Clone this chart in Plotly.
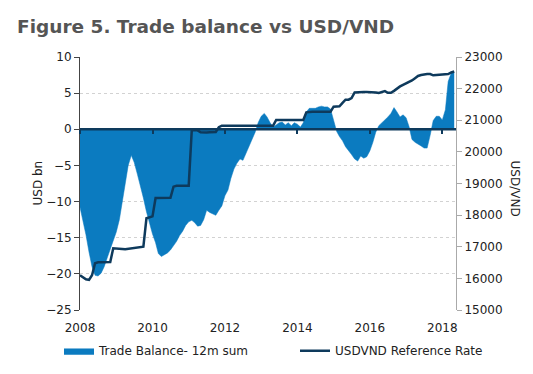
import plotly.graph_objects as go
import pandas as pd

months = pd.date_range("2008-01-01", periods=125, freq="MS")

trade_balance = [
    -10.8, -12.6, -14.6, -17.0, -19.0, -20.2, -20.3, -19.9, -19.0, -17.8, -16.6, -15.3,
    -14.2, -12.5, -10.3, -7.5, -5.0, -3.6, -4.6, -6.2, -7.8, -9.5, -11.4, -13.0,
    -14.5, -15.7, -17.2, -17.6, -17.4, -17.1, -16.7, -16.1, -15.5, -14.7, -14.1, -13.3,
    -12.8, -12.6, -12.9, -13.4, -13.3, -12.5, -11.2, -11.5, -11.7, -11.9, -11.2, -10.6,
    -9.2, -8.4, -6.8, -5.5, -4.7, -4.1, -4.3, -3.3, -2.3, -1.3, -0.4, 0.9,
    1.8, 2.2, 1.7, 0.9, 0.3, 0.6, 0.9, 1.0, 0.6, 0.9, 0.5, 0.9,
    0.7, 0.3, 0.9, 2.4, 2.9, 2.9, 2.9, 3.1, 3.2, 3.1, 3.1, 2.8,
    1.3, -0.3, -1.0, -1.6, -2.4, -2.9, -3.5, -4.1, -4.4, -3.7, -4.0, -3.8,
    -3.0, -1.8, -0.4, 0.5, 0.9, 1.2, 1.7, 2.2, 3.0, 2.4, 1.7, 2.0,
    1.6, 0.3, -1.4, -1.8, -2.0, -2.3, -2.6, -2.6, -0.8, 1.2, 1.8, 1.8,
    1.3, 2.7, 6.6, 7.8, 7.9,
]

usdvnd = [
    16100, 16020, 15970, 15950, 16100, 16480, 16510, 16510, 16510, 16510, 16520, 16950,
    16950, 16940, 16930, 16920, 16930, 16940, 16950, 16960, 16980, 17000, 17900, 17940,
    17960, 18540, 18540, 18540, 18540, 18540, 18550, 18900, 18930, 18930, 18930, 18930,
    18930, 20690, 20690, 20680, 20620, 20610, 20610, 20620, 20620, 20630, 20780, 20830,
    20830, 20830, 20830, 20830, 20830, 20830, 20830, 20830, 20830, 20830, 20830, 20830,
    20830, 20830, 20830, 20830, 20830, 21010, 21010, 21010, 21010, 21010, 21010, 21010,
    21010, 21010, 21010, 21250, 21270, 21270, 21270, 21270, 21270, 21270, 21270, 21270,
    21430, 21440, 21440, 21550, 21650, 21650, 21700, 21880, 21890, 21890, 21890, 21890,
    21890, 21890, 21880, 21860, 21880, 21920, 21870, 21870, 21930, 22010, 22070, 22120,
    22160, 22200, 22260, 22330, 22400, 22430, 22450, 22460, 22460, 22420, 22430, 22440,
    22440, 22450, 22460, 22510, 22540,
]

tick_dates = ["2008-01-01", "2010-01-01", "2012-01-01", "2014-01-01", "2016-01-01", "2018-01-01"]
tick_labels = ["2008", "2010", "2012", "2014", "2016", "2018"]

FILL = "#0B7BC0"
NAVY = "#0E3A5C"
FONT = "DejaVu Sans"
X_RANGE = ["2008-01-01", "2018-05-19"]
Y_RANGE = [-25, 10]

fig = go.Figure()
fig.add_trace(go.Scatter(
    x=months, y=trade_balance, name="Trade Balance- 12m sum",
    mode="lines", fill="tozeroy", fillcolor=FILL,
    line=dict(color=FILL, width=0.5), legend="legend",
))
fig.add_trace(go.Scatter(
    x=months, y=usdvnd, name="USDVND Reference Rate", yaxis="y2",
    mode="lines", line=dict(color=NAVY, width=2.5), legend="legend2",
))
# invisible carrier for the tick marks drawn on the zero line
fig.add_trace(go.Scatter(
    x=months, y=trade_balance, xaxis="x2", mode="none",
    showlegend=False, hoverinfo="skip",
))

zero_frac = (0 - Y_RANGE[0]) / (Y_RANGE[1] - Y_RANGE[0])
legend_font = dict(family=FONT, size=12, color="#222222")

fig.update_layout(
    width=533, height=374,
    margin=dict(l=80, r=77, t=57, b=64, autoexpand=False),
    paper_bgcolor="white", plot_bgcolor="white",
    font=dict(family=FONT, size=12, color="#222222"),
    title=dict(
        text="<b>Figure 5. Trade balance vs USD/VND</b>",
        font=dict(family=FONT, size=18.5, color="#555555"),
        x=17 / 533, xref="container", xanchor="left",
        y=1 - 27 / 374, yref="container", yanchor="middle",
    ),
    xaxis=dict(
        type="date", range=X_RANGE,
        tickvals=tick_dates, ticktext=tick_labels,
        ticks="outside", ticklen=7, tickcolor="rgba(0,0,0,0)",
        showline=False, showgrid=False, zeroline=False,
        tickfont=dict(size=12, color="#222222"),
    ),
    xaxis2=dict(
        type="date", range=X_RANGE, overlaying="x", anchor="free",
        position=zero_frac,
        tickvals=tick_dates, ticks="outside", ticklen=4, tickwidth=1.5,
        tickcolor=NAVY, showticklabels=False,
        showline=False, showgrid=False, zeroline=False,
    ),
    yaxis=dict(
        range=Y_RANGE, dtick=5, tick0=0,
        showgrid=True, gridcolor="#d2d2d2", griddash="dot", gridwidth=1,
        showline=True, linecolor="#444444", linewidth=1,
        ticks="outside", ticklen=5, tickcolor="#444444",
        zeroline=False,
        tickfont=dict(size=12, color="#222222"),
    ),
    yaxis2=dict(
        overlaying="y", side="right", range=[15000, 23000], dtick=1000,
        tickformat="d",
        showgrid=False, showline=True, linecolor="#aaaaaa", linewidth=1,
        ticks="outside", ticklen=5, tickcolor="#aaaaaa",
        zeroline=False,
        tickfont=dict(size=12, color="#222222"),
    ),
    shapes=[dict(
        type="line", xref="paper", x0=0, x1=1, yref="y", y0=0, y1=0,
        line=dict(color=NAVY, width=2.5), layer="above",
    )],
    annotations=[
        dict(text="USD bn", xref="paper", yref="paper", x=(37 - 80) / 376, y=0.5,
             xanchor="center", yanchor="middle",
             textangle=-90, showarrow=False, font=dict(size=12, color="#222222")),
        dict(text="USD/VND", xref="paper", yref="paper", x=(515 - 80) / 376, y=0.48,
             xanchor="center", yanchor="middle",
             textangle=90, showarrow=False, font=dict(size=12, color="#222222")),
    ],
    legend=dict(
        orientation="h", x=(59 - 80) / 376, y=-0.104, xanchor="left", yanchor="top",
        font=legend_font, bgcolor="rgba(0,0,0,0)",
    ),
    legend2=dict(
        orientation="h", x=(295 - 80) / 376, y=-0.104, xanchor="left", yanchor="top",
        font=legend_font, bgcolor="rgba(0,0,0,0)",
    ),
    showlegend=True,
)

fig.write_html("out.html", config={"displayModeBar": False},
               post_script="document.body.style.margin='0';")
